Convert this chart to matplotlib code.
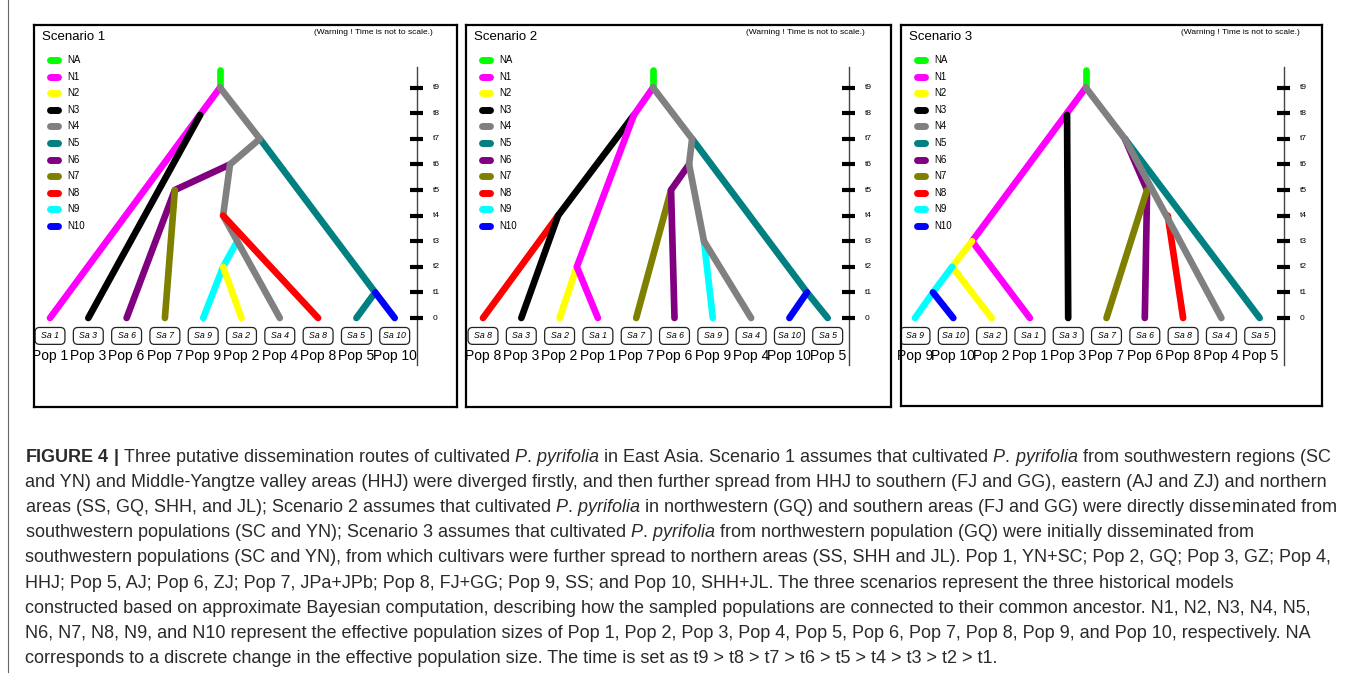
import numpy as np
import matplotlib.pyplot as plt
from matplotlib import font_manager
from matplotlib.patches import FancyBboxPatch

W, H, DPI = 1355, 674, 100
plt.rcParams['font.family'] = ['Liberation Sans', 'DejaVu Sans']

# ---------------- data ----------------
time_labels = ['0', 't1', 't2', 't3', 't4', 't5', 't6', 't7', 't8', 't9']
size_labels = ['NA', 'N1', 'N2', 'N3', 'N4', 'N5', 'N6', 'N7', 'N8', 'N9', 'N10']
size_colors = ['#00ff00', '#ff00ff', '#ffff00', '#000000', '#808080', '#008080',
               '#800080', '#808000', '#ff0000', '#00ffff', '#0000ff']

# sample / population order at the tips
leaves_s1 = [1, 3, 6, 7, 9, 2, 4, 8, 5, 10]
leaves_s2 = [8, 3, 2, 1, 7, 6, 9, 4, 10, 5]
leaves_s3 = [9, 10, 2, 1, 3, 7, 6, 8, 4, 5]

# branches: (population size, x in tip slots, time); listed in drawing order
branches_s1 = [
    ('NA', [4.44, 4.44], [9, 9.7]),
    ('N1', [4.44, 0], [9, 0]),
    ('N3', [3.92, 1], [7.93, 0]),
    ('N5', [5.48, 8.49, 8], [7, 1, 0]),
    ('N10', [8.49, 9], [1, 0]),
    ('N6', [4.70, 3.26, 2], [6, 5, 0]),
    ('N7', [3.26, 3], [5, 0]),
    ('N9', [4.89, 4.52, 4], [3, 2, 0]),
    ('N2', [4.52, 5], [2, 0]),
    ('N4', [4.44, 5.48, 4.70, 4.52, 6], [9, 7, 6, 4, 0]),
    ('N8', [4.52, 7], [4, 0]),
]
branches_s2 = [
    ('NA', [4.44, 4.44], [9, 9.7]),
    ('N8', [1.96, 0], [4, 0]),
    ('N3', [3.94, 1.96, 1], [7.93, 4, 0]),
    ('N2', [2.45, 2], [2, 0]),
    ('N1', [4.44, 3.94, 2.45, 3], [9, 7.93, 2, 0]),
    ('N5', [5.46, 8.46, 9], [7, 1, 0]),
    ('N10', [8.46, 8], [1, 0]),
    ('N7', [4.91, 4], [5, 0]),
    ('N6', [5.38, 4.91, 5], [6, 5, 0]),
    ('N9', [5.77, 6], [3, 0]),
    ('N4', [4.44, 5.46, 5.38, 5.77, 7], [9, 7, 6, 3, 0]),
]
branches_s3 = [
    ('NA', [4.46, 4.46], [9, 9.7]),
    ('N1', [4.46, 1.49, 3], [9, 3, 0]),
    ('N3', [3.97, 4], [7.93, 0]),
    ('N2', [1.49, 0.97, 2], [3, 2, 0]),
    ('N9', [0.97, 0.47, 0], [2, 1, 0]),
    ('N10', [0.47, 1], [1, 0]),
    ('N5', [5.48, 9], [7, 0]),
    ('N6', [5.48, 6.06, 6], [7, 5, 0]),
    ('N7', [6.06, 5], [5, 0]),
    ('N8', [6.6, 7], [4, 0]),
    ('N4', [4.46, 5.48, 8], [9, 7, 0]),
]

PP = r'$\mathit{P.\,pyrifolia}$'
caption_lines = [
    r'$\mathbf{FIGURE\ 4\ |}$ Three putative dissemination routes of cultivated ' + PP
    + ' in East Asia. Scenario 1 assumes that cultivated ' + PP + ' from southwestern regions (SC',
    'and YN) and Middle-Yangtze valley areas (HHJ) were diverged firstly, and then further spread from HHJ to southern (FJ and GG), eastern (AJ and ZJ) and northern',
    'areas (SS, GQ, SHH, and JL); Scenario 2 assumes that cultivated ' + PP
    + ' in northwestern (GQ) and southern areas (FJ and GG) were directly disseminated from',
    'southwestern populations (SC and YN); Scenario 3 assumes that cultivated ' + PP
    + ' from northwestern population (GQ) were initially disseminated from',
    'southwestern populations (SC and YN), from which cultivars were further spread to northern areas (SS, SHH and JL). Pop 1, YN+SC; Pop 2, GQ; Pop 3, GZ; Pop 4,',
    'HHJ; Pop 5, AJ; Pop 6, ZJ; Pop 7, JPa+JPb; Pop 8, FJ+GG; Pop 9, SS; and Pop 10, SHH+JL. The three scenarios represent the three historical models',
    'constructed based on approximate Bayesian computation, describing how the sampled populations are connected to their common ancestor. N1, N2, N3, N4, N5,',
    'N6, N7, N8, N9, and N10 represent the effective population sizes of Pop 1, Pop 2, Pop 3, Pop 4, Pop 5, Pop 6, Pop 7, Pop 8, Pop 9, and Pop 10, respectively. NA',
    'corresponds to a discrete change in the effective population size. The time is set as t9 > t8 > t7 > t6 > t5 > t4 > t3 > t2 > t1.',
]

# ---------------- layout (pixels) ----------------
PX_X, PX_T, T0 = 38.3, 25.6, 293     # tip spacing, time step, row of time 0 below box top
AXIS_PX = 383                          # time axis, from box left
panels = [
    ('Scenario 1', leaves_s1, branches_s1, (34, 25, 457, 407), 16),
    ('Scenario 2', leaves_s2, branches_s2, (466, 25, 891, 407), 17),
    ('Scenario 3', leaves_s3, branches_s3, (901, 25, 1322, 406), 14),
]
color_of = dict(zip(size_labels, size_colors))

fig = plt.figure(figsize=(W / DPI, H / DPI), dpi=DPI)
bg = fig.add_axes([0, 0, 1, 1])
bg.set_xlim(0, W)
bg.set_ylim(H, 0)
bg.axis('off')
bg.plot([8, 8], [0, 672], color='#666666', lw=0.8)

for title, leaves, branches, (l, t, r, b), x0 in panels:
    bw, bh = r - l, b - t
    ax = fig.add_axes([l / W, 1 - b / H, bw / W, bh / H])
    ax.set_xlim(-x0 / PX_X, (bw - x0) / PX_X)
    ax.set_ylim(-(bh - T0) / PX_T, T0 / PX_T)
    ax.set_xticks([])
    ax.set_yticks([])
    for sp in ax.spines.values():
        sp.set_linewidth(1.6)

    # tree
    for size, xs, ts in branches:
        ax.plot(xs, ts, color=color_of[size], lw=4.8,
                solid_capstyle='round', solid_joinstyle='round')

    # tips
    for i, n in enumerate(leaves):
        ax.add_patch(FancyBboxPatch((i - 0.39, -0.70 - 0.33), 0.78, 0.66,
                                    boxstyle='round,pad=0,rounding_size=0.12',
                                    mutation_aspect=PX_X / PX_T,
                                    fc='white', ec='#222222', lw=0.9))
        ax.text(i, -0.70, f'Sa {n}', fontsize=6.3, style='italic',
                ha='center', va='center')
        ax.text(i, -1.48, f'Pop {n}', fontsize=10, ha='center', va='center')

    # time axis
    tx = (AXIS_PX - x0) / PX_X
    ax.plot([tx, tx], [-1.84, 9.8], color='#444444', lw=1.0)
    for k, lab in enumerate(time_labels):
        ax.plot([tx - 0.18, tx + 0.16], [k, k], color='black', lw=3,
                solid_capstyle='butt')
        ax.text(tx + 0.42, k, lab, fontsize=6, va='center')

    # legend
    for k, (lab, col) in enumerate(zip(size_labels, size_colors)):
        yy = 1 - (35 + 16.6 * k) / bh
        ax.plot([16 / bw, 24 / bw], [yy, yy], color=col, lw=5,
                solid_capstyle='round', transform=ax.transAxes)
        ax.text(33 / bw, yy, lab, fontsize=7, va='center',
                transform=ax.transAxes)

    ax.text(8 / bw, 1 - 12 / bh, title, fontsize=9.5, va='center',
            transform=ax.transAxes)
    ax.text(399 / bw, 1 - 8 / bh, '(Warning ! Time is not to scale.)',
            fontsize=6, ha='right', va='center', transform=ax.transAxes)

# caption
cap_font = 'Liberation Sans'
plt.rcParams['mathtext.fontset'] = 'custom'
plt.rcParams['mathtext.rm'] = cap_font
plt.rcParams['mathtext.it'] = cap_font + ':italic'
plt.rcParams['mathtext.bf'] = cap_font + ':bold'

renderer = fig.canvas.get_renderer()
texts = []
for k, line in enumerate(caption_lines):
    texts.append(bg.text(25, 462 + 25.1 * k, line, fontsize=11, color='#2a2a2a',
                         family=cap_font, va='baseline', ha='left'))
w1 = texts[0].get_window_extent(renderer).width
fs = 11 * 1310 / w1
for tt in texts:
    tt.set_fontsize(fs)

fig.savefig('out.png', dpi=DPI)
